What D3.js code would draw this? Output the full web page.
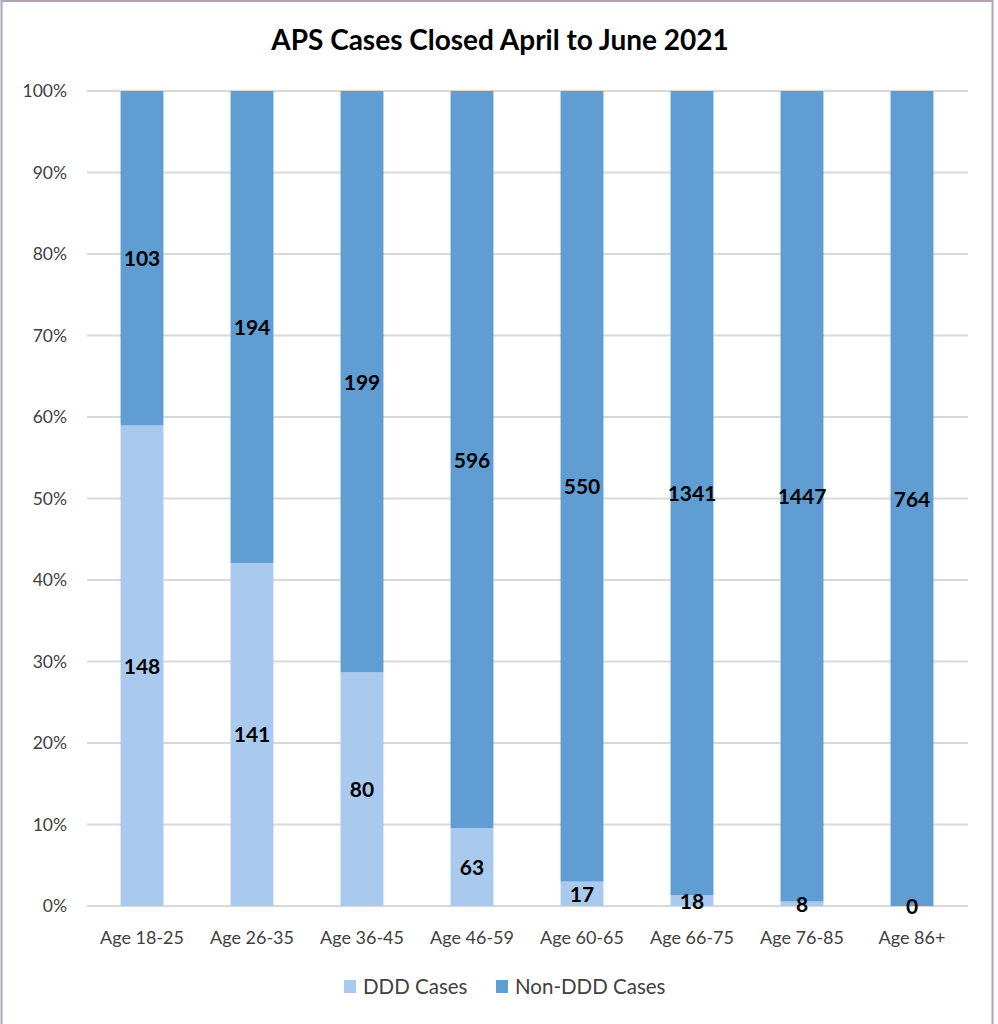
<!DOCTYPE html>
<html>
<head>
<meta charset="utf-8">
<script src="https://cdn.jsdelivr.net/npm/d3@7"></script>
<style>
  body { margin: 0; background: #fff; }
  svg { display: block; font-family: Lato, "Open Sans", sans-serif; }
</style>
</head>
<body>
<div class="graph"></div>
<script>
// Datos del gráfico
const categorias = ["Age 18-25", "Age 26-35", "Age 36-45", "Age 46-59", "Age 60-65", "Age 66-75", "Age 76-85", "Age 86+"];
const casosDDD = [148, 141, 80, 63, 17, 18, 8, 0];
const casosNoDDD = [103, 194, 199, 596, 550, 1341, 1447, 764];
const series = ["DDD Cases", "Non-DDD Cases"];
const colores = ["#a9caee", "#5f9dd2"];
const ticksY = [0, 0.1, 0.2, 0.3, 0.4, 0.5, 0.6, 0.7, 0.8, 0.9, 1];

const width = 998;
const height = 1024;

const svg = d3.select(".graph")
    .append("svg")
    .attr("width", width)
    .attr("height", height);

// Marco exterior
svg.append("rect")
    .attr("x", 1.5).attr("y", 1).attr("width", 991).attr("height", 1030)
    .attr("fill", "#fff").attr("stroke", "#aea4b4").attr("stroke-width", 2);

// Título
svg.append("text")
    .attr("x", 500).attr("y", 50)
    .attr("text-anchor", "middle")
    .attr("font-size", 28).attr("font-weight", "bold")
    .attr("fill", "#000")
    .text("APS Cases Closed April to June 2021");

// Escalas
const xScale = d3.scaleBand()
    .domain(categorias)
    .range([87, 967])
    .paddingInner(0.61)
    .paddingOuter(0.305);

const yScale = d3.scaleLinear()
    .domain([0, 1])
    .range([906, 91]);

// Líneas de la cuadrícula
svg.append("g")
    .selectAll("line")
    .data(ticksY)
    .enter()
    .append("line")
    .attr("x1", 87).attr("x2", 968)
    .attr("y1", d => yScale(d)).attr("y2", d => yScale(d))
    .attr("stroke", "#d9d9d9").attr("stroke-width", 2);

// Etiquetas del eje Y
svg.append("g")
    .selectAll("text")
    .data(ticksY)
    .enter()
    .append("text")
    .attr("x", 67)
    .attr("y", d => yScale(d) + 6)
    .attr("text-anchor", "end")
    .attr("font-size", 17.5)
    .attr("fill", "#404040")
    .text(d => d3.format(".0%")(d));

// Apilar los datos como porcentaje
const tabla = categorias.map((c, i) => ({ cat: c, ddd: casosDDD[i], non: casosNoDDD[i], total: casosDDD[i] + casosNoDDD[i] }));
const segmentos = [];
tabla.forEach(d => {
    const p0 = d.ddd / d.total;
    segmentos.push({ cat: d.cat, y0: 0, y1: p0, valor: d.ddd, serie: 0 });
    segmentos.push({ cat: d.cat, y0: p0, y1: 1, valor: d.non, serie: 1 });
});

// Dibujar barras
svg.append("g")
    .selectAll("rect")
    .data(segmentos)
    .enter()
    .append("rect")
    .attr("x", d => xScale(d.cat))
    .attr("width", xScale.bandwidth())
    .attr("y", d => yScale(d.y1))
    .attr("height", d => yScale(d.y0) - yScale(d.y1))
    .attr("fill", d => colores[d.serie]);

// Etiquetas de datos
svg.append("g")
    .selectAll("text")
    .data(segmentos)
    .enter()
    .append("text")
    .attr("x", d => xScale(d.cat) + xScale.bandwidth() / 2)
    .attr("y", d => yScale((d.y0 + d.y1) / 2) + 8)
    .attr("text-anchor", "middle")
    .attr("font-size", 21).attr("font-weight", "bold")
    .attr("fill", "#000")
    .text(d => d.valor);

// Etiquetas del eje X
svg.append("g")
    .selectAll("text")
    .data(categorias)
    .enter()
    .append("text")
    .attr("x", d => xScale(d) + xScale.bandwidth() / 2)
    .attr("y", 944)
    .attr("text-anchor", "middle")
    .attr("font-size", 18)
    .attr("fill", "#404040")
    .text(d => d);

// Leyenda
const leyendaX = [344, 496];
const leyenda = svg.append("g")
    .selectAll("g")
    .data(series)
    .enter()
    .append("g")
    .attr("transform", (d, i) => `translate(${leyendaX[i]},980)`);

leyenda.append("rect")
    .attr("width", 12).attr("height", 13)
    .attr("fill", (d, i) => colores[i]);

leyenda.append("text")
    .attr("x", 19).attr("y", 14)
    .attr("font-size", 20.5)
    .attr("fill", "#404040")
    .text(d => d);
</script>
</body>
</html>
